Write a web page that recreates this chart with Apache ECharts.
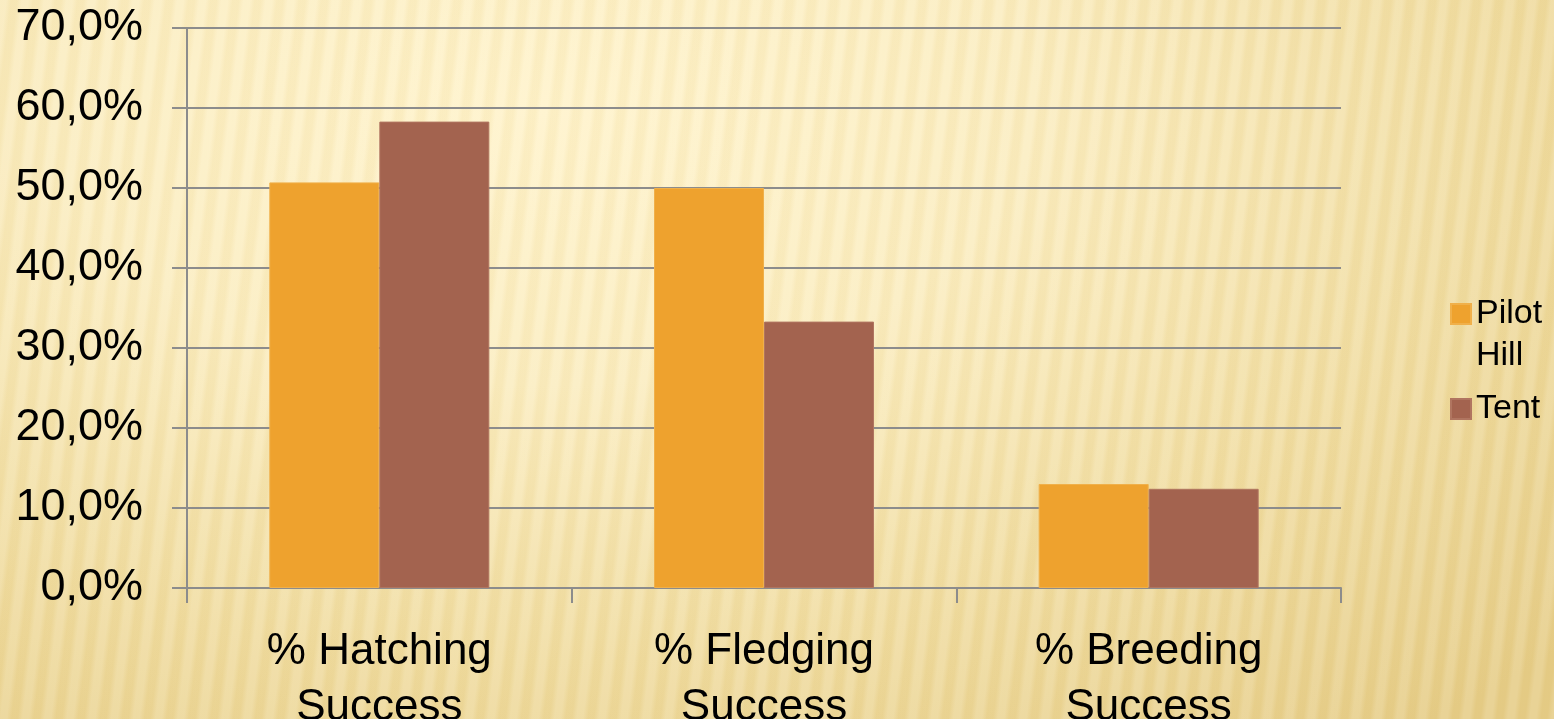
<!DOCTYPE html>
<html>
<head>
<meta charset="utf-8">
<script src="https://cdn.jsdelivr.net/npm/echarts@6/dist/echarts.min.js"></script>
<style>
html,body{margin:0;padding:0;width:1554px;height:719px;overflow:hidden;}
body{
  background:
    repeating-linear-gradient(97deg, rgba(255,255,255,0.12) 0px, rgba(255,255,255,0.12) 6px, rgba(190,150,50,0.05) 11px, rgba(190,150,50,0.05) 17px, rgba(255,255,255,0.12) 22px),
    radial-gradient(ellipse 90% 110% at 35% 15%, #fff3cb 0%, #fbedc0 35%, #f0dca0 70%, #e6cd88 100%);
}
#chart{width:1554px;height:719px;}
</style>
</head>
<body>
<div id="chart"></div>
<script>
const categories = ['% Hatching\nSuccess', '% Fledging\nSuccess', '% Breeding\nSuccess'];
const seriesNames = ['Pilot Hill', 'Tent'];
const pilotHill = [50.7, 50.0, 13.0];
const tent = [58.3, 33.3, 12.4];
const yTicks = { min: 0, max: 70, interval: 10 };

const chart = echarts.init(document.getElementById('chart'));
const fmt = v => v.toFixed(1).replace('.', ',') + '%';
chart.setOption({
  backgroundColor: 'transparent',
  animation: false,
  grid: { left: 187, right: 213, top: 28, bottom: 131, containLabel: false, outerBoundsMode: 'none' },
  legend: {
    orient: 'vertical',
    left: 1445,
    top: 250,
    itemWidth: 20,
    itemHeight: 20,
    itemGap: 15,
    icon: 'rect',
    data: seriesNames,
    formatter: n => n === 'Pilot Hill' ? '{p|Pilot\nHill}' : '{t|' + n + '}',
    textStyle: {
      fontFamily: 'Liberation Sans', fontSize: 34, color: '#000', lineHeight: 42,
      rich: {
        p: { fontFamily: 'Liberation Sans', fontSize: 34, lineHeight: 42, padding: [42, 0, 0, 0] },
        t: { fontFamily: 'Liberation Sans', fontSize: 34, lineHeight: 42 }
      }
    },
    selectedMode: false
  },
  xAxis: {
    type: 'category',
    data: categories,
    axisLine: { lineStyle: { color: '#8c8c8c', width: 2 } },
    axisTick: { show: true, length: 15, lineStyle: { color: '#8c8c8c', width: 2 } },
    axisLabel: { fontFamily: 'Liberation Sans', fontSize: 44, lineHeight: 56, color: '#000', margin: 36 }
  },
  yAxis: {
    type: 'value',
    min: yTicks.min, max: yTicks.max, interval: yTicks.interval,
    axisLine: { show: true, lineStyle: { color: '#8c8c8c', width: 2 } },
    axisTick: { show: true, length: 15, lineStyle: { color: '#8c8c8c', width: 2 } },
    splitLine: { lineStyle: { color: '#8c8c8c', width: 2 } },
    axisLabel: { fontFamily: 'Liberation Sans', fontSize: 45, color: '#000', margin: 44, formatter: fmt }
  },
  series: [
    { name: seriesNames[0], type: 'bar', data: pilotHill, barWidth: 110, barGap: '0%',
      itemStyle: { color: '#EEA22E', borderColor: '#f0b04a', borderWidth: 1 } },
    { name: seriesNames[1], type: 'bar', data: tent, barWidth: 110, barGap: '0%',
      itemStyle: { color: '#A3634F', borderColor: '#b07560', borderWidth: 1 } }
  ]
});
</script>
</body>
</html>
